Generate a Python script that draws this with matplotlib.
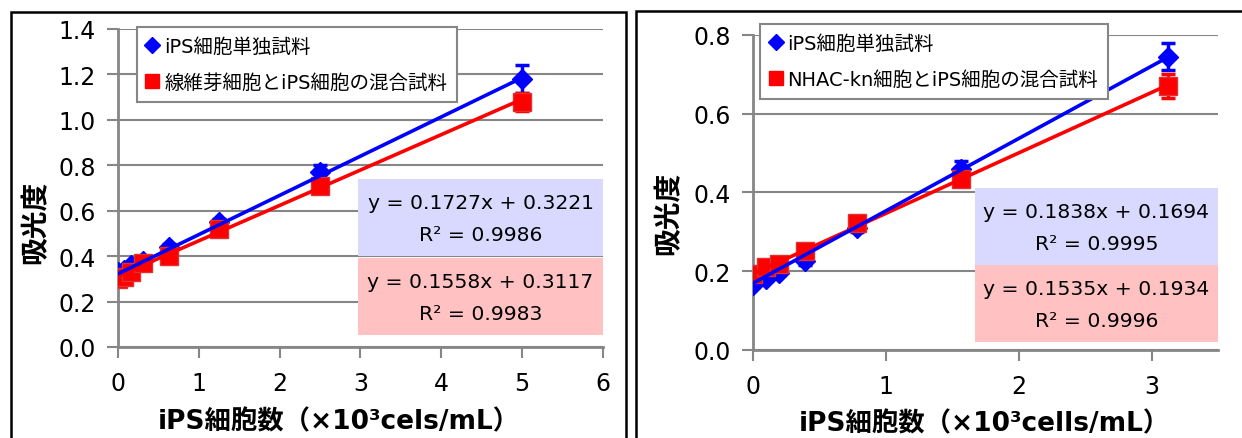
import numpy as np
import matplotlib
matplotlib.use('Agg')
import matplotlib.pyplot as plt
from matplotlib.patches import Rectangle

plt.rcParams['font.family'] = ['DejaVu Sans', 'Noto Sans CJK JP']

# left panel data
x_left = [0, 0.078, 0.156, 0.3125, 0.625, 1.25, 2.5, 5]
ips_left = [0.33, 0.34, 0.36, 0.38, 0.44, 0.55, 0.77, 1.18]
ips_left_err = [0.01, 0.01, 0.01, 0.01, 0.015, 0.015, 0.03, 0.06]
mix_left = [0.30, 0.31, 0.33, 0.37, 0.40, 0.52, 0.71, 1.08]
mix_left_err = [0.01, 0.01, 0.01, 0.01, 0.01, 0.015, 0.02, 0.04]
fit_left = [(0.1727, 0.3221, 0.9986), (0.1558, 0.3117, 0.9983)]
legend_left = ['iPS細胞単独試料', '線維芽細胞とiPS細胞の混合試料']
xlabel_left = 'iPS細胞数（×10³cels/mL）'

# right panel data
x_right = [0, 0.098, 0.195, 0.39, 0.78, 1.5625, 3.125]
ips_right = [0.165, 0.18, 0.195, 0.225, 0.31, 0.46, 0.745]
ips_right_err = [0.005, 0.005, 0.005, 0.01, 0.01, 0.02, 0.035]
mix_right = [0.193, 0.21, 0.218, 0.251, 0.322, 0.435, 0.67]
mix_right_err = [0.005, 0.005, 0.005, 0.01, 0.01, 0.015, 0.03]
fit_right = [(0.1838, 0.1694, 0.9995), (0.1535, 0.1934, 0.9996)]
legend_right = ['iPS細胞単独試料', 'NHAC-kn細胞とiPS細胞の混合試料']
xlabel_right = 'iPS細胞数（×10³cells/mL）'

ylabel = '吸光度'
grey = '#868686'


def draw_panel(ax, x, ips, ips_err, mix, mix_err, fits, labels, xlabel,
               xlim, ylim, xticks, yticks, legend_pos, boxes, xl_pos, yl_pos):
    ax.errorbar(x, ips, yerr=ips_err, fmt='D', color='#0000FF', ms=10,
                elinewidth=2.5, capsize=5, capthick=2.5, zorder=3,
                label=labels[0])
    ax.errorbar(x, mix, yerr=mix_err, fmt='s', color='#FF0000', ms=13,
                mec='#E03030', elinewidth=2.5, capsize=5, capthick=2.5,
                zorder=4, label=labels[1])
    xs = np.array([min(x), max(x)])
    colors = ['#0000FF', '#FF0000']
    for (a, b, r2), c, z in zip(fits, colors, [6, 5]):
        ax.plot(xs, a * xs + b, color=c, lw=2.6, zorder=z)

    ax.set_xlim(xlim)
    ax.set_ylim(ylim)
    ax.set_xticks(xticks)
    ax.set_yticks(yticks)
    ax.set_yticklabels(['%.1f' % v for v in yticks])
    ax.tick_params(axis='both', colors=grey, labelcolor='black',
                   labelsize=17, length=8, width=1.5, direction='out')
    ax.tick_params(axis='x', pad=9)
    ax.tick_params(axis='y', pad=8)
    ax.grid(axis='y', color=grey, lw=1.5)
    ax.set_axisbelow(True)
    for s in ['top', 'right']:
        ax.spines[s].set_visible(False)
    for s in ['left', 'bottom']:
        ax.spines[s].set_color(grey)
        ax.spines[s].set_linewidth(2)

    ax.set_xlabel(xlabel, fontsize=19, fontweight='bold', va='center')
    ax.set_ylabel(ylabel, fontsize=20, fontweight='bold', va='center')
    ax.xaxis.set_label_coords(*xl_pos)
    ax.yaxis.set_label_coords(*yl_pos)

    handles = [plt.Line2D([], [], ls='', marker='D', color='#0000FF', ms=8),
               plt.Line2D([], [], ls='', marker='s', color='#FF0000', ms=10)]
    leg = ax.legend(handles, labels, loc='upper left', bbox_to_anchor=legend_pos,
                    fontsize=14, frameon=True, fancybox=False, framealpha=1,
                    edgecolor=grey, handlelength=0.6, handletextpad=0.3,
                    borderpad=0.5, labelspacing=0.9, borderaxespad=0)
    leg.get_frame().set_linewidth(1.5)
    leg.set_zorder(10)

    fills = ['#D9D9FF', '#FFC1C1']
    for (a, b, r2), (x0, y0, w, hgt), fc in zip(fits, boxes, fills):
        ax.add_patch(Rectangle((x0, y0), w, hgt, transform=ax.transAxes,
                               facecolor=fc, edgecolor='none', zorder=7))
        cx = x0 + w / 2
        ax.text(cx, y0 + hgt * 0.70, 'y = %.4fx + %.4f' % (a, b),
                transform=ax.transAxes, ha='center', va='center',
                fontsize=14.7, zorder=8)
        ax.text(cx, y0 + hgt * 0.28, 'R² = %.4f' % r2,
                transform=ax.transAxes, ha='center', va='center',
                fontsize=14.7, zorder=8)


fig = plt.figure(figsize=(12.42, 4.39), dpi=100)

# panel borders
fig.patches.append(Rectangle((11 / 1242, -0.05), 615 / 1242, 1.05 - 13 / 439,
                             transform=fig.transFigure, fill=False,
                             edgecolor='black', lw=1.8))
fig.patches.append(Rectangle((636 / 1242, -0.05), 0.5, 1.05 - 12 / 439,
                             transform=fig.transFigure, fill=False,
                             edgecolor='black', lw=1.8))

ax1 = fig.add_axes([0.095, 0.2073, 0.3905, 0.7244])
draw_panel(ax1, x_left, ips_left, ips_left_err, mix_left, mix_left_err,
           fit_left, legend_left, xlabel_left, (0, 6), (0, 1.4),
           range(0, 7), np.arange(0, 1.41, 0.2), (0.039, 1.006),
           [(0.495, 0.286, 0.505, 0.242), (0.495, 0.038, 0.505, 0.242)],
           (0.455, -0.235), (-0.171, 0.396))

ax2 = fig.add_axes([0.6063, 0.2005, 0.3744, 0.7177])
draw_panel(ax2, x_right, ips_right, ips_right_err, mix_right, mix_right_err,
           fit_right, legend_right, xlabel_right, (0, 3.5), (0, 0.8),
           range(0, 4), np.arange(0, 0.81, 0.2), (0.015, 1.035),
           [(0.477, 0.27, 0.523, 0.244), (0.477, 0.025, 0.523, 0.244)],
           (0.497, -0.232), (-0.183, 0.438))

fig.savefig('out.png', dpi=100)
